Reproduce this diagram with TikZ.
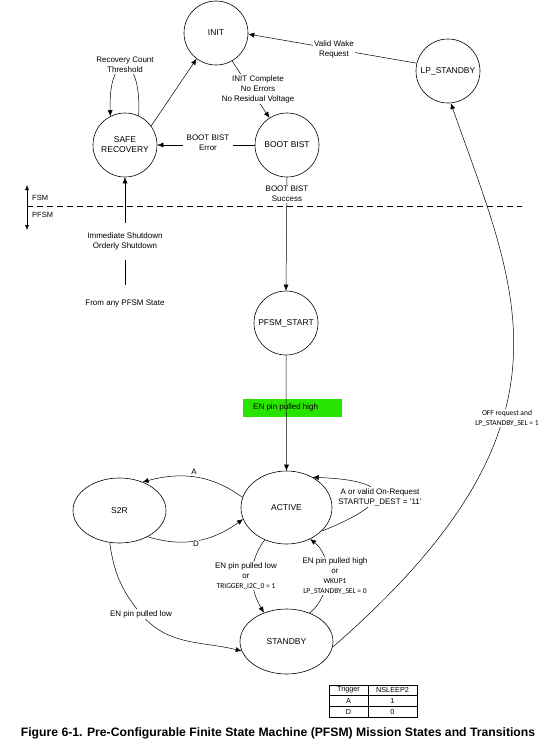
\documentclass[tikz,border=0pt]{standalone}
\usepackage{fontspec}
\setmainfont{Liberation Sans}
\newfontfamily\carl{Carlito}
\usetikzlibrary{arrows.meta,shapes.geometric}
\definecolor{hlgreen}{RGB}{40,228,0}
\begin{document}
\begin{tikzpicture}[x=1pt,y=1pt,
 fsmstate/.style={circle,draw,line width=0.6pt,minimum size=64pt,inner sep=0pt,align=center,font=\fontsize{8.5}{10}\selectfont},
 ellstate/.style={ellipse,draw,line width=0.6pt,inner sep=0pt,font=\fontsize{8.5}{10}\selectfont},
 lbl/.style={fill=white,inner sep=1pt,align=center,font=\fontsize{8}{10}\selectfont},
 small/.style={font=\carl\fontsize{7.5}{10}\selectfont},
 tcell/.style={font=\fontsize{7.3}{8}\selectfont,inner sep=0pt},
 arr/.style={-{Latex[length=6pt,width=5pt]},line width=0.5pt},
 ln/.style={line width=0.5pt}]
\useasboundingbox (0,0) rectangle (551,-748);

% states
\node[fsmstate] (init) at (216,-33) {INIT};
\node[fsmstate] (lp) at (448,-71) {LP\_STANDBY};
\node[fsmstate] (safe) at (125,-145) {SAFE\\RECOVERY};
\node[fsmstate] (bist) at (287,-145) {BOOT BIST};
\node[fsmstate] (pstart) at (286,-323) {PFSM\_START};
\node[ellstate,minimum width=91pt,minimum height=73pt] (active) at (286.5,-507.5) {ACTIVE};
\node[ellstate,minimum width=93pt,minimum height=65pt] (s2r) at (119.5,-510.5) {S2R};
\node[ellstate,minimum width=93pt,minimum height=65pt] (standby) at (286.5,-641.5) {STANDBY};

% LP_STANDBY -> INIT
\draw[arr] (lp.166) -- (init.-2);
\node[lbl] (wake) at (334,-49) {Valid Wake\\Request};

% SAFE -> INIT
\draw[arr] (safe.36) -- (init.233);

% recovery loop
\draw[arr] (safe.65) .. controls (142,-50) and (108,-50) .. (safe.117);
\node[lbl] (rct) at (125,-65) {Recovery Count\\Threshold};

% INIT -> BOOT BIST
\draw[arr] (init.-60) -- (bist.123);
\node[lbl] (icomp) at (258,-89) {INIT Complete\\No Errors\\No Residual Voltage};

% BOOT BIST -> SAFE
\draw[arr] (bist.west) -- (safe.east);
\node[lbl,inner xsep=4pt] (berr) at (208,-142.5) {BOOT BIST\\Error};

% BOOT BIST -> PFSM_START
\draw[arr] (bist.south) -- (pstart.north);
\node[lbl,inner ysep=1.5pt] (bsucc) at (287,-194) {BOOT BIST\\Success};

% from any PFSM state -> SAFE
\node[font=\fontsize{8}{10}\selectfont] (fromany) at (125,-304) {From any PFSM State};
\draw[arr] ([yshift=12pt]fromany.north) -- (safe.south);
\node[lbl,inner ysep=10pt] (shut) at (125,-241.5) {Immediate Shutdown\\Orderly Shutdown};

% FSM / PFSM
\coordinate (fsmtop) at (27,-185);
\coordinate (fsmbot) at (27,-230);
\draw[{Latex[length=5pt,width=4pt]}-{Latex[length=5pt,width=4pt]},line width=0.5pt] (fsmtop) -- (fsmbot);
\node[anchor=west,inner sep=0pt,font=\fontsize{7.5}{9}\selectfont] (fsml) at (32,-198) {FSM};
\node[anchor=west,inner sep=0pt,font=\fontsize{7.5}{9}\selectfont] (pfsml) at (32,-215) {PFSM};
\coordinate (dl) at (27,-206);
\coordinate (dr) at (522,-206);
\draw[line width=0.6pt,dash pattern=on 6pt off 4pt] (dl) -- (dr);

% PFSM_START -> ACTIVE
\node[fill=hlgreen,minimum width=99pt,minimum height=18pt,inner sep=0pt] (gbox) at (292.5,-407.5) {};
\draw[arr] (pstart.south) -- (active.north);
\node[anchor=west,inner sep=0pt,font=\fontsize{8}{10}\selectfont] (enhigh) at (253,-407.5) {EN pin pulled high};

% ACTIVE <-> S2R
\draw[arr] (active.167) to[out=144,in=15] (s2r.51);
\node[lbl,inner sep=0.5pt] (la) at (194,-471.5) {A};
\draw[arr] (s2r.-43) to[out=-17,in=216] (active.195);
\node[lbl,inner sep=0.5pt] (ld) at (196,-543.5) {D};

% ACTIVE self loop
\draw[arr] (active.-34) .. controls (400,-500) and (390,-480) .. (active.49);
\node[lbl] (self) at (380,-497) {A or valid On-Request\\STARTUP\_DEST = '11'};

% ACTIVE -> STANDBY
\draw[arr] (active.-124) to[out=233,in=121] (standby.128);
\node[lbl] (enlow1) at (246,-576) {EN pin pulled low\\or\\{\carl\fontsize{7.5}{10}\selectfont TRIGGER\_I2C\_0 = 1}};

% STANDBY -> ACTIVE
\draw[arr] (standby.51) to[out=39,in=-39] (active.-53);
\node[lbl] (enhigh2) at (335,-576) {EN pin pulled high\\or\\{\carl\fontsize{7.5}{10}\selectfont WKUP1}\\{\carl\fontsize{7.5}{10}\selectfont LP\_STANDBY\_SEL = 0}};

% S2R -> STANDBY
\node[lbl] (enlow2) at (141,-614) {EN pin pulled low};
\draw[arr] (s2r.-107) to[out=-82,in=130] (enlow2.center) to[out=-50,in=166] (standby.192);
\node[lbl] at (enlow2) {EN pin pulled low};

% STANDBY -> LP_STANDBY
\draw[arr] (standby.-7) .. controls (588,-425) and (518,-294) .. (lp.-85);
\node[lbl,small] (offreq) at (507,-418) {OFF request and\\LP\_STANDBY\_SEL = 1};

% table
\coordinate (tnw) at (329,-685);
\coordinate (tse) at (417,-717);
\draw[line width=0.6pt] (tnw) rectangle (tse);
\draw[line width=0.5pt] (329,-695) -- (417,-695);
\draw[line width=0.5pt] (329,-706) -- (417,-706);
\draw[line width=0.5pt] (368,-685) -- (368,-717);
\node[tcell] (th1) at (348.5,-690) {Trigger};
\node[tcell] (th2) at (392.5,-690) {NSLEEP2};
\node[tcell] (ta1) at (348.5,-700.5) {A};
\node[tcell] (ta2) at (392.5,-700.5) {1};
\node[tcell] (td1) at (348.5,-711.5) {D};
\node[tcell] (td2) at (392.5,-711.5) {0};

% caption
\node[font=\bfseries\fontsize{12.2}{14}\selectfont] (cap) at (278,-733) {Figure 6-1. Pre-Configurable Finite State Machine (PFSM) Mission States and Transitions};
\end{tikzpicture}
\end{document}
